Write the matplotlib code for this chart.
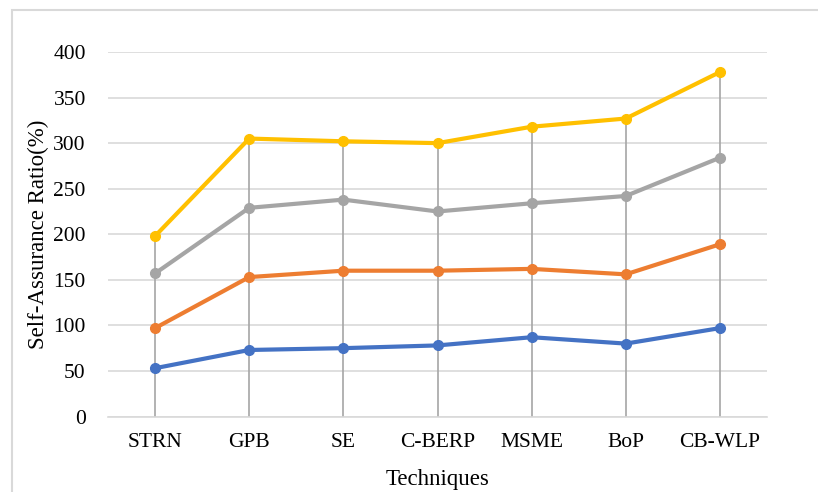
import numpy as np
import matplotlib
matplotlib.use('Agg')
from matplotlib import pyplot as plt
from matplotlib.patches import Rectangle
from matplotlib.font_manager import FontProperties

font = {'family': 'Liberation Serif', 'weight': 'normal', 'size': 15.5}
font1 = {'family': 'Liberation Serif', 'weight': 'normal', 'size': 16.5}

techniques = ['STRN', 'GPB', 'SE', 'C-BERP', 'MSME', 'BoP', 'CB-WLP']
series_blue = [53, 73, 75, 78, 87, 80, 97]
series_orange = [97, 153, 160, 160, 162, 156, 189]
series_gray = [157, 229, 238, 225, 234, 242, 284]
series_yellow = [198, 305, 302, 300, 318, 327, 378]
yticks = np.arange(0, 400.1, 50)

colors = ['#4472C4', '#ED7D31', '#A5A5A5', '#FFC000']

fig = plt.figure(figsize=(8.18, 4.92), dpi=100)
ax = fig.add_axes([108 / 818, 1 - 416.5 / 492, 659 / 818, 364.5 / 492])

x = np.arange(len(techniques))
all_series = [series_blue, series_orange, series_gray, series_yellow]

# drop lines from the highest point of each category down to zero
tops = np.max(np.array(all_series), axis=0)
ax.vlines(x, 0, tops, color='#A6A6A6', linewidth=1.2, zorder=1)

for vals, c in zip(all_series, colors):
    ax.plot(x, vals, color=c, linewidth=3, marker='o', markersize=7, zorder=3)

ax.set_xlim(-0.5, len(techniques) - 0.5)
ax.set_ylim(0, 400)
ax.set_yticks(yticks)
ax.yaxis.grid(True, color='#D9D9D9', linewidth=1.2)
ax.set_axisbelow(True)
for s in ['top', 'right', 'left']:
    ax.spines[s].set_visible(False)
ax.spines['bottom'].set_color('#D9D9D9')
ax.spines['bottom'].set_linewidth(1.2)
ax.tick_params(length=0)
ax.tick_params(axis='x', pad=12)
ax.tick_params(axis='y', pad=16)
ax.set_xticks(x)
ax.set_xticklabels(techniques, fontdict=font)
for lab in ax.get_yticklabels():
    lab.set_fontproperties(FontProperties(family='Liberation Serif', size=15.5))

ax.set_xlabel('Techniques', fontdict=font1, labelpad=12)
ax.set_ylabel('Self-Assurance Ratio(%)', fontdict=font1, labelpad=3)

# outer chart frame
fig.patches.append(Rectangle((12 / 818, -0.05), 1.0, 1 - 10 / 492 + 0.05,
                             transform=fig.transFigure, fill=False,
                             edgecolor='#D9D9D9', linewidth=1.5))

plt.savefig('out.png', dpi=100)
